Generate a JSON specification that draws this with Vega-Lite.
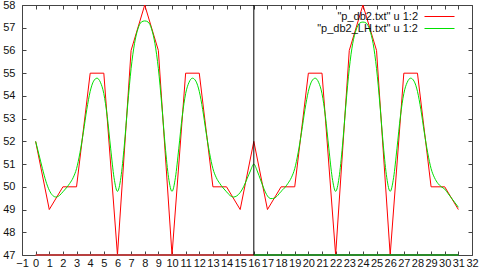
{
  "$schema": "https://vega.github.io/schema/vega-lite/v6.json",
  "width": 450,
  "height": 250,
  "autosize": {"type": "none"},
  "padding": {"left": 22, "top": 5, "right": 9, "bottom": 20},
  "background": "white",
  "config": {
    "view": {"stroke": "#444", "strokeWidth": 1},
    "axis": {"labelFont": "Liberation Sans", "labelFontSize": 11, "labelColor": "#111", "tickColor": "#444", "domain": false, "grid": false, "title": null, "labelOverlap": false, "labelFlush": false}
  },
  "datasets": {
    "main": [
      {"s": "\"p_db2.txt\" u 1:2", "x": 0, "y": 52}, {"s": "\"p_db2.txt\" u 1:2", "x": 1, "y": 49}, {"s": "\"p_db2.txt\" u 1:2", "x": 2, "y": 50}, {"s": "\"p_db2.txt\" u 1:2", "x": 3, "y": 50},
      {"s": "\"p_db2.txt\" u 1:2", "x": 4, "y": 55}, {"s": "\"p_db2.txt\" u 1:2", "x": 5, "y": 55}, {"s": "\"p_db2.txt\" u 1:2", "x": 6, "y": 47}, {"s": "\"p_db2.txt\" u 1:2", "x": 7, "y": 56},
      {"s": "\"p_db2.txt\" u 1:2", "x": 8, "y": 58}, {"s": "\"p_db2.txt\" u 1:2", "x": 9, "y": 56}, {"s": "\"p_db2.txt\" u 1:2", "x": 10, "y": 47}, {"s": "\"p_db2.txt\" u 1:2", "x": 11, "y": 55},
      {"s": "\"p_db2.txt\" u 1:2", "x": 12, "y": 55}, {"s": "\"p_db2.txt\" u 1:2", "x": 13, "y": 50}, {"s": "\"p_db2.txt\" u 1:2", "x": 14, "y": 50}, {"s": "\"p_db2.txt\" u 1:2", "x": 15, "y": 49},
      {"s": "\"p_db2.txt\" u 1:2", "x": 16, "y": 52}, {"s": "\"p_db2.txt\" u 1:2", "x": 17, "y": 49}, {"s": "\"p_db2.txt\" u 1:2", "x": 18, "y": 50}, {"s": "\"p_db2.txt\" u 1:2", "x": 19, "y": 50},
      {"s": "\"p_db2.txt\" u 1:2", "x": 20, "y": 55}, {"s": "\"p_db2.txt\" u 1:2", "x": 21, "y": 55}, {"s": "\"p_db2.txt\" u 1:2", "x": 22, "y": 47}, {"s": "\"p_db2.txt\" u 1:2", "x": 23, "y": 56},
      {"s": "\"p_db2.txt\" u 1:2", "x": 24, "y": 58}, {"s": "\"p_db2.txt\" u 1:2", "x": 25, "y": 56}, {"s": "\"p_db2.txt\" u 1:2", "x": 26, "y": 47}, {"s": "\"p_db2.txt\" u 1:2", "x": 27, "y": 55},
      {"s": "\"p_db2.txt\" u 1:2", "x": 28, "y": 55}, {"s": "\"p_db2.txt\" u 1:2", "x": 29, "y": 50}, {"s": "\"p_db2.txt\" u 1:2", "x": 30, "y": 50}, {"s": "\"p_db2.txt\" u 1:2", "x": 31, "y": 49},
      {"s": "\"p_db2_LH.txt\" u 1:2", "x": 0, "y": 52.0}, {"s": "\"p_db2_LH.txt\" u 1:2", "x": 0.25, "y": 51.4}, {"s": "\"p_db2_LH.txt\" u 1:2", "x": 0.5, "y": 50.8}, {"s": "\"p_db2_LH.txt\" u 1:2", "x": 0.75, "y": 50.25},
      {"s": "\"p_db2_LH.txt\" u 1:2", "x": 1, "y": 49.85}, {"s": "\"p_db2_LH.txt\" u 1:2", "x": 1.25, "y": 49.62}, {"s": "\"p_db2_LH.txt\" u 1:2", "x": 1.5, "y": 49.55}, {"s": "\"p_db2_LH.txt\" u 1:2", "x": 1.75, "y": 49.62},
      {"s": "\"p_db2_LH.txt\" u 1:2", "x": 2, "y": 49.78}, {"s": "\"p_db2_LH.txt\" u 1:2", "x": 2.25, "y": 49.95}, {"s": "\"p_db2_LH.txt\" u 1:2", "x": 2.5, "y": 50.15}, {"s": "\"p_db2_LH.txt\" u 1:2", "x": 2.75, "y": 50.4},
      {"s": "\"p_db2_LH.txt\" u 1:2", "x": 3, "y": 50.8}, {"s": "\"p_db2_LH.txt\" u 1:2", "x": 3.25, "y": 51.5}, {"s": "\"p_db2_LH.txt\" u 1:2", "x": 3.5, "y": 52.4}, {"s": "\"p_db2_LH.txt\" u 1:2", "x": 3.75, "y": 53.4},
      {"s": "\"p_db2_LH.txt\" u 1:2", "x": 4, "y": 54.2}, {"s": "\"p_db2_LH.txt\" u 1:2", "x": 4.25, "y": 54.65}, {"s": "\"p_db2_LH.txt\" u 1:2", "x": 4.5, "y": 54.78}, {"s": "\"p_db2_LH.txt\" u 1:2", "x": 4.75, "y": 54.6},
      {"s": "\"p_db2_LH.txt\" u 1:2", "x": 5, "y": 54.1}, {"s": "\"p_db2_LH.txt\" u 1:2", "x": 5.25, "y": 53.1}, {"s": "\"p_db2_LH.txt\" u 1:2", "x": 5.5, "y": 51.7}, {"s": "\"p_db2_LH.txt\" u 1:2", "x": 5.75, "y": 50.4},
      {"s": "\"p_db2_LH.txt\" u 1:2", "x": 6, "y": 49.8}, {"s": "\"p_db2_LH.txt\" u 1:2", "x": 6.25, "y": 50.4}, {"s": "\"p_db2_LH.txt\" u 1:2", "x": 6.5, "y": 51.8}, {"s": "\"p_db2_LH.txt\" u 1:2", "x": 6.75, "y": 53.6},
      {"s": "\"p_db2_LH.txt\" u 1:2", "x": 7, "y": 55.2}, {"s": "\"p_db2_LH.txt\" u 1:2", "x": 7.25, "y": 56.3}, {"s": "\"p_db2_LH.txt\" u 1:2", "x": 7.5, "y": 56.95}, {"s": "\"p_db2_LH.txt\" u 1:2", "x": 7.75, "y": 57.25},
      {"s": "\"p_db2_LH.txt\" u 1:2", "x": 8, "y": 57.3}, {"s": "\"p_db2_LH.txt\" u 1:2", "x": 8.25, "y": 57.25}, {"s": "\"p_db2_LH.txt\" u 1:2", "x": 8.5, "y": 56.95}, {"s": "\"p_db2_LH.txt\" u 1:2", "x": 8.75, "y": 56.3},
      {"s": "\"p_db2_LH.txt\" u 1:2", "x": 9, "y": 55.2}, {"s": "\"p_db2_LH.txt\" u 1:2", "x": 9.25, "y": 53.6}, {"s": "\"p_db2_LH.txt\" u 1:2", "x": 9.5, "y": 51.8}, {"s": "\"p_db2_LH.txt\" u 1:2", "x": 9.75, "y": 50.4},
      {"s": "\"p_db2_LH.txt\" u 1:2", "x": 10, "y": 49.8}, {"s": "\"p_db2_LH.txt\" u 1:2", "x": 10.25, "y": 50.4}, {"s": "\"p_db2_LH.txt\" u 1:2", "x": 10.5, "y": 51.7}, {"s": "\"p_db2_LH.txt\" u 1:2", "x": 10.75, "y": 53.1},
      {"s": "\"p_db2_LH.txt\" u 1:2", "x": 11, "y": 54.1}, {"s": "\"p_db2_LH.txt\" u 1:2", "x": 11.25, "y": 54.6}, {"s": "\"p_db2_LH.txt\" u 1:2", "x": 11.5, "y": 54.78}, {"s": "\"p_db2_LH.txt\" u 1:2", "x": 11.75, "y": 54.65},
      {"s": "\"p_db2_LH.txt\" u 1:2", "x": 12, "y": 54.2}, {"s": "\"p_db2_LH.txt\" u 1:2", "x": 12.25, "y": 53.4}, {"s": "\"p_db2_LH.txt\" u 1:2", "x": 12.5, "y": 52.4}, {"s": "\"p_db2_LH.txt\" u 1:2", "x": 12.75, "y": 51.5},
      {"s": "\"p_db2_LH.txt\" u 1:2", "x": 13, "y": 50.8}, {"s": "\"p_db2_LH.txt\" u 1:2", "x": 13.25, "y": 50.4}, {"s": "\"p_db2_LH.txt\" u 1:2", "x": 13.5, "y": 50.15}, {"s": "\"p_db2_LH.txt\" u 1:2", "x": 13.75, "y": 49.95},
      {"s": "\"p_db2_LH.txt\" u 1:2", "x": 14, "y": 49.78}, {"s": "\"p_db2_LH.txt\" u 1:2", "x": 14.25, "y": 49.62}, {"s": "\"p_db2_LH.txt\" u 1:2", "x": 14.5, "y": 49.55}, {"s": "\"p_db2_LH.txt\" u 1:2", "x": 14.75, "y": 49.6},
      {"s": "\"p_db2_LH.txt\" u 1:2", "x": 15, "y": 49.75}, {"s": "\"p_db2_LH.txt\" u 1:2", "x": 15.25, "y": 50.0}, {"s": "\"p_db2_LH.txt\" u 1:2", "x": 15.5, "y": 50.35}, {"s": "\"p_db2_LH.txt\" u 1:2", "x": 15.75, "y": 50.7},
      {"s": "\"p_db2_LH.txt\" u 1:2", "x": 16, "y": 51.0}, {"s": "\"p_db2_LH.txt\" u 1:2", "x": 16.25, "y": 50.7}, {"s": "\"p_db2_LH.txt\" u 1:2", "x": 16.5, "y": 50.3}, {"s": "\"p_db2_LH.txt\" u 1:2", "x": 16.75, "y": 49.9},
      {"s": "\"p_db2_LH.txt\" u 1:2", "x": 17, "y": 49.6}, {"s": "\"p_db2_LH.txt\" u 1:2", "x": 17.25, "y": 49.48}, {"s": "\"p_db2_LH.txt\" u 1:2", "x": 17.5, "y": 49.5}, {"s": "\"p_db2_LH.txt\" u 1:2", "x": 17.75, "y": 49.62},
      {"s": "\"p_db2_LH.txt\" u 1:2", "x": 18, "y": 49.8}, {"s": "\"p_db2_LH.txt\" u 1:2", "x": 18.25, "y": 49.95}, {"s": "\"p_db2_LH.txt\" u 1:2", "x": 18.5, "y": 50.15}, {"s": "\"p_db2_LH.txt\" u 1:2", "x": 18.75, "y": 50.4},
      {"s": "\"p_db2_LH.txt\" u 1:2", "x": 19, "y": 50.8}, {"s": "\"p_db2_LH.txt\" u 1:2", "x": 19.25, "y": 51.5}, {"s": "\"p_db2_LH.txt\" u 1:2", "x": 19.5, "y": 52.4}, {"s": "\"p_db2_LH.txt\" u 1:2", "x": 19.75, "y": 53.4},
      {"s": "\"p_db2_LH.txt\" u 1:2", "x": 20, "y": 54.2}, {"s": "\"p_db2_LH.txt\" u 1:2", "x": 20.25, "y": 54.65}, {"s": "\"p_db2_LH.txt\" u 1:2", "x": 20.5, "y": 54.78}, {"s": "\"p_db2_LH.txt\" u 1:2", "x": 20.75, "y": 54.6},
      {"s": "\"p_db2_LH.txt\" u 1:2", "x": 21, "y": 54.1}, {"s": "\"p_db2_LH.txt\" u 1:2", "x": 21.25, "y": 53.1}, {"s": "\"p_db2_LH.txt\" u 1:2", "x": 21.5, "y": 51.7}, {"s": "\"p_db2_LH.txt\" u 1:2", "x": 21.75, "y": 50.4},
      {"s": "\"p_db2_LH.txt\" u 1:2", "x": 22, "y": 49.8}, {"s": "\"p_db2_LH.txt\" u 1:2", "x": 22.25, "y": 50.4}, {"s": "\"p_db2_LH.txt\" u 1:2", "x": 22.5, "y": 51.8}, {"s": "\"p_db2_LH.txt\" u 1:2", "x": 22.75, "y": 53.6},
      {"s": "\"p_db2_LH.txt\" u 1:2", "x": 23, "y": 55.2}, {"s": "\"p_db2_LH.txt\" u 1:2", "x": 23.25, "y": 56.3}, {"s": "\"p_db2_LH.txt\" u 1:2", "x": 23.5, "y": 56.9}, {"s": "\"p_db2_LH.txt\" u 1:2", "x": 23.75, "y": 57.2},
      {"s": "\"p_db2_LH.txt\" u 1:2", "x": 24, "y": 57.25}, {"s": "\"p_db2_LH.txt\" u 1:2", "x": 24.25, "y": 57.2}, {"s": "\"p_db2_LH.txt\" u 1:2", "x": 24.5, "y": 56.9}, {"s": "\"p_db2_LH.txt\" u 1:2", "x": 24.75, "y": 56.3},
      {"s": "\"p_db2_LH.txt\" u 1:2", "x": 25, "y": 55.2}, {"s": "\"p_db2_LH.txt\" u 1:2", "x": 25.25, "y": 53.6}, {"s": "\"p_db2_LH.txt\" u 1:2", "x": 25.5, "y": 51.8}, {"s": "\"p_db2_LH.txt\" u 1:2", "x": 25.75, "y": 50.4},
      {"s": "\"p_db2_LH.txt\" u 1:2", "x": 26, "y": 49.8}, {"s": "\"p_db2_LH.txt\" u 1:2", "x": 26.25, "y": 50.4}, {"s": "\"p_db2_LH.txt\" u 1:2", "x": 26.5, "y": 51.7}, {"s": "\"p_db2_LH.txt\" u 1:2", "x": 26.75, "y": 53.1},
      {"s": "\"p_db2_LH.txt\" u 1:2", "x": 27, "y": 54.1}, {"s": "\"p_db2_LH.txt\" u 1:2", "x": 27.25, "y": 54.6}, {"s": "\"p_db2_LH.txt\" u 1:2", "x": 27.5, "y": 54.78}, {"s": "\"p_db2_LH.txt\" u 1:2", "x": 27.75, "y": 54.65},
      {"s": "\"p_db2_LH.txt\" u 1:2", "x": 28, "y": 54.2}, {"s": "\"p_db2_LH.txt\" u 1:2", "x": 28.25, "y": 53.4}, {"s": "\"p_db2_LH.txt\" u 1:2", "x": 28.5, "y": 52.4}, {"s": "\"p_db2_LH.txt\" u 1:2", "x": 28.75, "y": 51.5},
      {"s": "\"p_db2_LH.txt\" u 1:2", "x": 29, "y": 50.8}, {"s": "\"p_db2_LH.txt\" u 1:2", "x": 29.25, "y": 50.4}, {"s": "\"p_db2_LH.txt\" u 1:2", "x": 29.5, "y": 50.15}, {"s": "\"p_db2_LH.txt\" u 1:2", "x": 29.75, "y": 50.0},
      {"s": "\"p_db2_LH.txt\" u 1:2", "x": 30, "y": 49.9}, {"s": "\"p_db2_LH.txt\" u 1:2", "x": 30.25, "y": 49.7}, {"s": "\"p_db2_LH.txt\" u 1:2", "x": 30.5, "y": 49.5}, {"s": "\"p_db2_LH.txt\" u 1:2", "x": 30.75, "y": 49.3},
      {"s": "\"p_db2_LH.txt\" u 1:2", "x": 31, "y": 49.1}
    ],
    "base": [
      {"part": "a", "x": 0, "y": 47}, {"part": "a", "x": 16, "y": 47},
      {"part": "b", "x": 16, "y": 47}, {"part": "b", "x": 31, "y": 47}
    ],
    "divider": [{"x": 16}]
  },
  "layer": [
    {
      "data": {"name": "main"},
      "transform": [{"filter": "datum.s === '\"p_db2.txt\" u 1:2'"}],
      "mark": {"type": "line", "strokeWidth": 1, "interpolate": "linear"},
      "encoding": {
        "x": {"field": "x", "type": "quantitative", "scale": {"domain": [-1, 32], "nice": false, "zero": false},
              "axis": {"orient": "bottom", "values": [-1,0,1,2,3,4,5,6,7,8,9,10,11,12,13,14,15,16,17,18,19,20,21,22,23,24,25,26,27,28,29,30,31,32], "tickSize": -4, "labelPadding": 6}},
        "y": {"field": "y", "type": "quantitative", "scale": {"domain": [47, 58], "nice": false, "zero": false},
              "axis": {"orient": "left", "values": [47,48,49,50,51,52,53,54,55,56,57,58], "tickSize": -4, "labelPadding": 11}},
        "color": {"field": "s", "type": "nominal",
                  "scale": {"domain": ["\"p_db2.txt\" u 1:2"], "range": ["#ff0000"]},
                  "legend": {"title": null, "orient": "none", "legendX": 402, "legendY": -4, "direction": "vertical", "symbolType": "stroke", "symbolSize": 900, "symbolStrokeWidth": 1, "labelAlign": "right", "labelOffset": -37, "labelFont": "Liberation Sans", "labelFontSize": 11, "labelColor": "#111", "padding": 0, "labelLimit": 0,
                             "encode": {"symbols": {"update": {"stroke": {"scale": "color", "field": "value"}, "strokeWidth": {"value": 1}}}}}}
      }
    },
    {
      "data": {"name": "main"},
      "transform": [{"filter": "datum.s === '\"p_db2_LH.txt\" u 1:2'"}],
      "mark": {"type": "line", "strokeWidth": 1, "interpolate": "monotone"},
      "encoding": {
        "x": {"field": "x", "type": "quantitative",
              "axis": {"orient": "top", "values": [-1,0,1,2,3,4,5,6,7,8,9,10,11,12,13,14,15,16,17,18,19,20,21,22,23,24,25,26,27,28,29,30,31,32], "tickSize": -4, "labels": false}},
        "y": {"field": "y", "type": "quantitative",
              "axis": {"orient": "right", "values": [47,48,49,50,51,52,53,54,55,56,57,58], "tickSize": -4, "labels": false}},
        "stroke": {"field": "s", "type": "nominal",
                   "scale": {"domain": ["\"p_db2_LH.txt\" u 1:2"], "range": ["#00e000"]},
                   "legend": {"title": null, "orient": "none", "legendX": 402, "legendY": 8, "direction": "vertical", "symbolType": "stroke", "symbolSize": 900, "symbolStrokeWidth": 1, "labelAlign": "right", "labelOffset": -37, "labelFont": "Liberation Sans", "labelFontSize": 11, "labelColor": "#111", "padding": 0, "labelLimit": 0,
                              "encode": {"symbols": {"update": {"stroke": {"scale": "stroke", "field": "value"}, "strokeWidth": {"value": 1}}}}}}
      }
    },
    {
      "data": {"name": "base"},
      "transform": [{"filter": "datum.part === 'a'"}],
      "mark": {"type": "line", "strokeWidth": 2, "color": "#b84040"},
      "encoding": {
        "x": {"field": "x", "type": "quantitative", "axis": null},
        "y": {"field": "y", "type": "quantitative", "axis": null}
      }
    },
    {
      "data": {"name": "base"},
      "transform": [{"filter": "datum.part === 'b'"}],
      "mark": {"type": "line", "strokeWidth": 2, "color": "#2a8a2a"},
      "encoding": {
        "x": {"field": "x", "type": "quantitative", "axis": null},
        "y": {"field": "y", "type": "quantitative", "axis": null}
      }
    },
    {
      "data": {"name": "divider"},
      "mark": {"type": "rule", "color": "#000", "strokeWidth": 1},
      "encoding": {
        "x": {"field": "x", "type": "quantitative", "axis": null}
      }
    }
  ]
}
